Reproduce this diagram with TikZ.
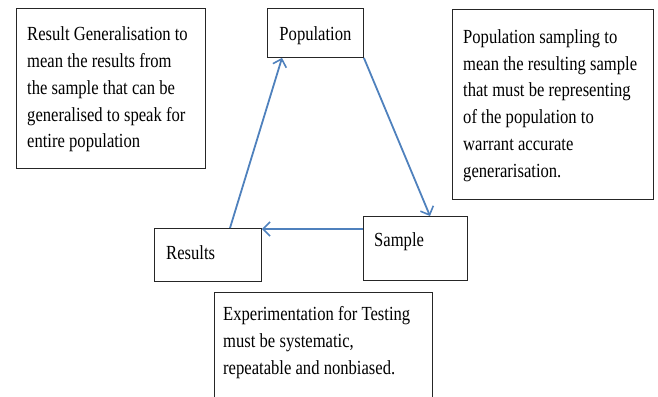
\documentclass[tikz,border=0pt]{standalone}
\usepackage{fontspec}
\setmainfont{Liberation Serif}[FakeStretch=0.83]
\usetikzlibrary{arrows.meta,calc}
\definecolor{arrowblue}{RGB}{79,129,189}
\newcommand{\diagfont}{\fontsize{20}{26.8}\selectfont\spaceskip=4.2pt plus 1pt minus 1pt\relax}
\begin{document}
\begin{tikzpicture}[x=1pt,y=-1pt,
  every node/.style={font=\diagfont},
  boxed/.style={draw=black!85,line width=0.9pt,anchor=north west,inner sep=0pt},
  txt/.style={inner sep=0pt,align=left},
  arr/.style={draw=arrowblue,line width=1.8pt,-{Straight Barb[length=7pt,width=14pt,line width=1.6pt]}}]
\useasboundingbox (0,0) rectangle (658,396);
\clip (0,0) rectangle (658,396);
% top-left box
\node[boxed,minimum width=189pt,minimum height=160pt] (gen) at (16,8) {};
\node[txt,anchor=west] (gentxt) at ([xshift=11pt,yshift=-1pt]gen.west)
  {Result Generalisation to\\mean the results from\\the sample that can be\\generalised to speak for\\entire population};
% top-right box
\node[boxed,minimum width=201pt,minimum height=190pt] (sampnote) at (452,9) {};
\node[txt,anchor=west] (sampnotetxt) at ([xshift=11pt,yshift=-1pt]sampnote.west)
  {Population sampling to\\mean the resulting sample\\that must be representing\\of the population to\\warrant accurate\\generarisation.};
% population
\node[boxed,minimum width=96pt,minimum height=49pt] (pop) at (267,8) {};
\node[txt,anchor=base] (poptxt) at ([yshift=-7.5pt]pop.center) {Population};
% results
\node[boxed,minimum width=107pt,minimum height=53pt] (res) at (154,228) {};
\node[txt,anchor=base west] (restxt) at (166,259) {Results};
% sample
\node[boxed,minimum width=104pt,minimum height=64pt] (samp) at (363,216) {};
\node[txt,anchor=base west] (samptxt) at (374,246) {Sample};
% experiment box
\node[boxed,minimum width=218pt,minimum height=120pt] (exp) at (214,292) {};
\node[txt,anchor=north west] (exptxt) at (223,306.3)
  {Experimentation for Testing\\must be systematic,\\repeatable and nonbiased.};
% arrows
\draw[arr] (pop.south east) -- ([xshift=67pt]samp.north west);
\draw[arr] ([yshift=-13pt]samp.north west) -- ([yshift=-1pt]res.north east);
\draw[arr] ([xshift=76pt]res.north west) -- ([xshift=15pt]pop.south west);
\end{tikzpicture}
\end{document}
